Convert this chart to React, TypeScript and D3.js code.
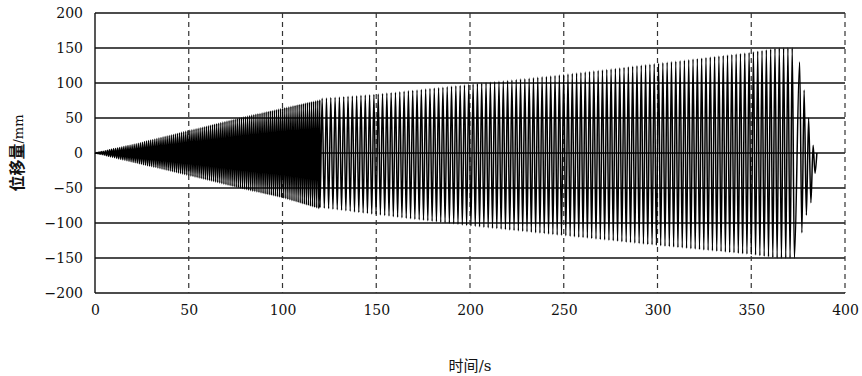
import React, { useEffect, useRef } from 'react';
import * as d3 from 'd3';

// axis ticks
const xTicks = [0, 50, 100, 150, 200, 250, 300, 350, 400];
const yTicks = [-200, -150, -100, -50, 0, 50, 100, 150, 200];

// dense part (0-120 s): envelope, cycle period in s
const denseTimes = [0, 20, 50, 80, 100, 120];
const denseUpper = [0, 12, 32, 52, 64, 76];
const denseLower = [0, -13, -32, -52, -64, -80];
const densePeriod = 1.1;

// sweep part (120-374 s)
const sweepTimes = [120, 150, 200, 250, 300, 350, 364, 374];
const sweepUpper = [78, 84, 98, 112, 128, 144, 150, 150];
const sweepLower = [-78, -88, -104, -118, -132, -145, -150, -150];
const sweepPeriod = 2.3;

// decay at the end, single peaks
const tailTimes = [375.8, 377, 378.2, 379.4, 380.6, 381.8, 383, 384, 385];
const tailValues = [130, -114, 90, -89, 50, -71, 11, -29, 0];

type Pt = [number, number];

function peaks(times: number[], upper: number[], lower: number[], period: number, firstUp: boolean, skipFirst: boolean): Pt[] {
  const up = d3.scaleLinear().domain(times).range(upper);
  const lo = d3.scaleLinear().domain(times).range(lower);
  const t0 = times[0];
  const t1 = times[times.length - 1];
  const out: Pt[] = [];
  let k = skipFirst ? 1 : 0;
  for (let t = t0 + k * period / 2; t <= t1; k++, t = t0 + k * period / 2) {
    const isUp = (k % 2 === 0) === firstUp;
    out.push([t, isUp ? up(t) : lo(t)]);
  }
  return out;
}

export default function App() {
  const svgRef = useRef<SVGSVGElement>(null);

  useEffect(() => {
    if (!svgRef.current) return;
    const margin = { top: 13, right: 17, bottom: 83, left: 95 };
    const width = 862 - margin.left - margin.right;
    const height = 376 - margin.top - margin.bottom;

    d3.select(svgRef.current).selectAll('*').remove();

    const svg = d3.select(svgRef.current)
      .append('g')
      .attr('transform', `translate(${margin.left},${margin.top})`);

    const x = d3.scaleLinear().domain([0, 400]).range([0, width]);
    const y = d3.scaleLinear().domain([-200, 200]).range([height, 0]);

    // horizontal grid (solid)
    svg.selectAll('.hgrid')
      .data(yTicks)
      .enter()
      .append('line')
      .attr('x1', 0)
      .attr('x2', width)
      .attr('y1', d => y(d))
      .attr('y2', d => y(d))
      .attr('stroke', '#111')
      .attr('stroke-width', 1.4);

    // vertical grid (dashed)
    svg.selectAll('.vgrid')
      .data(xTicks.filter(d => d > 0))
      .enter()
      .append('line')
      .attr('x1', d => x(d))
      .attr('x2', d => x(d))
      .attr('y1', 0)
      .attr('y2', height)
      .attr('stroke', '#333')
      .attr('stroke-width', 1.2)
      .attr('stroke-dasharray', '5,4');

    svg.append('line')
      .attr('x1', 0).attr('x2', 0)
      .attr('y1', 0).attr('y2', height)
      .attr('stroke', '#111')
      .attr('stroke-width', 1.4);

    // signal
    const dense = peaks(denseTimes, denseUpper, denseLower, densePeriod, true, true);
    const lastDenseUp = dense[dense.length - 1][1] > 0;
    const sweep = peaks(sweepTimes, sweepUpper, sweepLower, sweepPeriod, !lastDenseUp, false);
    const tail: Pt[] = tailTimes.map((t, i) => [t, tailValues[i]]);
    const data: Pt[] = [[0, 0], ...dense, ...sweep, ...tail];

    const line = d3.line<Pt>()
      .x(d => x(d[0]))
      .y(d => y(d[1]))
      .curve(d3.curveMonotoneX);

    svg.append('path')
      .datum(data)
      .attr('d', line)
      .attr('fill', 'none')
      .attr('stroke', '#000')
      .attr('stroke-width', 1.5);

    // axes (labels only)
    const yAxis = svg.append('g')
      .call(d3.axisLeft(y).tickValues(yTicks).tickSize(0).tickPadding(12));
    const xAxis = svg.append('g')
      .attr('transform', `translate(0,${height})`)
      .call(d3.axisBottom(x).tickValues(xTicks).tickSize(0).tickPadding(12));
    [yAxis, xAxis].forEach(g => {
      g.select('.domain').remove();
      g.selectAll('text')
        .attr('fill', '#111')
        .style('font-family', '"DejaVu Serif", serif')
        .style('font-size', '14px');
    });

    // axis titles
    svg.append('text')
      .attr('transform', `translate(${-76},${height / 2}) rotate(-90)`)
      .attr('text-anchor', 'middle')
      .attr('dominant-baseline', 'middle')
      .attr('fill', '#111')
      .style('font-family', '"Noto Sans CJK SC", sans-serif')
      .style('font-size', '16px')
      .style('font-weight', 'bold')
      .text('位移量')
      .append('tspan')
      .style('font-family', '"DejaVu Serif", serif')
      .style('font-weight', 'normal')
      .style('font-size', '13px')
      .text('/mm');

    svg.append('text')
      .attr('x', width / 2)
      .attr('y', height + 78)
      .attr('text-anchor', 'middle')
      .attr('fill', '#111')
      .style('font-family', '"Noto Sans CJK SC", sans-serif')
      .style('font-size', '15px')
      .text('时间')
      .append('tspan')
      .style('font-family', '"DejaVu Serif", serif')
      .text('/s');
  }, []);

  return (
    <svg
      ref={svgRef}
      width={862}
      height={376}
      style={{ position: 'absolute', left: 0, top: 0, background: '#fff' }}
    />
  );
}
